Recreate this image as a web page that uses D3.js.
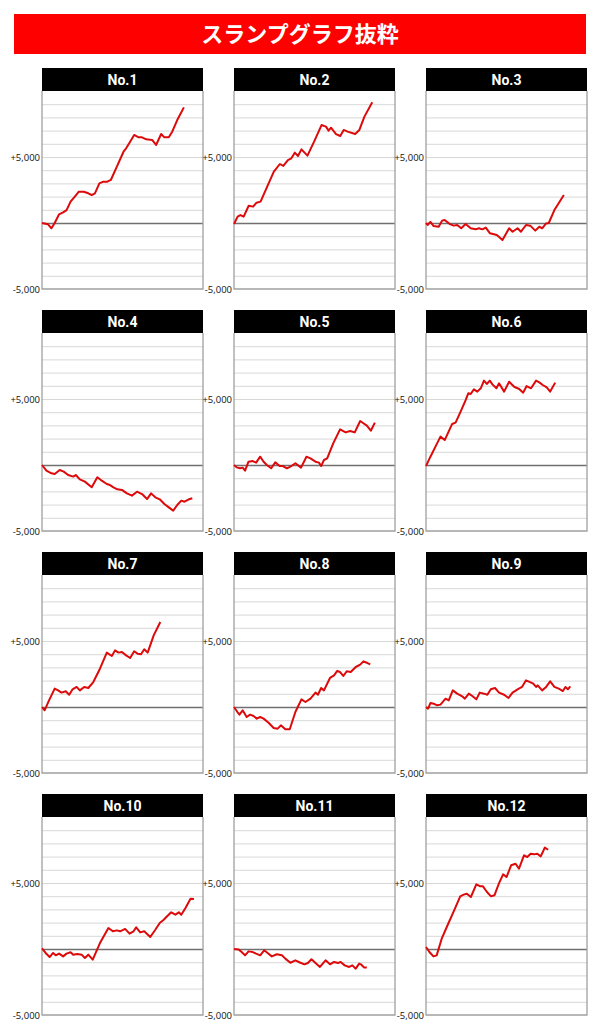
<!DOCTYPE html>
<html>
<head>
<meta charset="utf-8">
<script src="https://cdn.jsdelivr.net/npm/d3@7"></script>
<style>
  body { margin: 0; background: #fff; }
  svg { display: block; }
</style>
</head>
<body>
<script>
// slump graphs, [games, difference]
var slump1 = [[0,0],[300,-100],[470,-400],[630,0],[850,660],[1050,810],[1220,980],[1420,1620],[1630,2000],[1830,2370],[2080,2370],[2300,2250],[2470,2120],[2630,2250],[2850,3000],[3050,3130],[3250,3130],[3420,3260],[3720,4270],[4050,5400],[4180,5660],[4380,6160],[4580,6670],[4800,6490],[4970,6490],[5180,6340],[5470,6290],[5670,5910],[5920,6740],[6080,6490],[6300,6490],[6470,6920],[6720,7800],[7050,8760]];
var slump2 = [[0,-80],[180,480],[320,600],[480,480],[730,1310],[950,1240],[1120,1540],[1320,1620],[1650,2750],[1980,3890],[2280,4470],[2450,4320],[2680,4770],[2850,4900],[3020,5330],[3180,5080],[3350,5580],[3650,5100],[3980,6160],[4350,7420],[4570,7300],[4700,7000],[4820,7220],[5070,6740],[5280,6590],[5450,7050],[5650,6920],[6020,6740],[6230,7050],[6480,8060],[6870,9140]];
var slump3 = [[0,0],[80,-150],[220,80],[380,-230],[630,-280],[800,180],[930,230],[1180,-80],[1380,-200],[1550,-150],[1750,-400],[1970,-80],[2220,-400],[2470,-480],[2630,-400],[2800,-480],[2970,-350],[3180,-780],[3520,-910],[3800,-1290],[4130,-400],[4300,-660],[4550,-400],[4720,-660],[4970,-150],[5180,-200],[5430,-580],[5630,-280],[5770,-400],[5970,-30],[6100,0],[6380,980],[6850,2120]];
var slump4 = [[0,0],[220,-430],[470,-630],[630,-680],[880,-380],[1080,-500],[1300,-760],[1550,-880],[1680,-760],[1880,-1090],[2130,-1260],[2470,-1690],[2750,-930],[2970,-1190],[3220,-1440],[3380,-1520],[3550,-1690],[3750,-1840],[3970,-1890],[4220,-2150],[4470,-2320],[4720,-2020],[4970,-2200],[5220,-2580],[5420,-2150],[5630,-2450],[5850,-2600],[6080,-2950],[6300,-3210],[6520,-3460],[6720,-3030],[6920,-2700],[7080,-2780],[7300,-2600],[7470,-2520]];
var slump5 = [[0,0],[130,-180],[300,-250],[430,-200],[550,-430],[720,250],[930,300],[1100,180],[1300,630],[1470,250],[1630,0],[1850,-250],[2050,200],[2270,-80],[2430,-80],[2630,-250],[2800,-130],[3050,130],[3330,-200],[3600,630],[3800,500],[4050,250],[4220,180],[4330,-80],[4470,380],[4630,500],[4930,1640],[5270,2700],[5550,2470],[5770,2580],[6000,2470],[6270,3330],[6430,3160],[6600,2980],[6800,2600],[7000,3210]];
var slump6 = [[0,-80],[220,630],[470,1390],[720,2150],[930,1890],[1300,3110],[1470,3210],[1720,4040],[1970,4920],[2100,5430],[2220,5380],[2380,5730],[2550,5560],[2720,5810],[2880,6390],[3020,6140],[3170,6390],[3300,6110],[3500,5810],[3630,6190],[3880,5560],[4130,6310],[4380,5930],[4630,5760],[4830,5480],[5000,5980],[5220,5810],[5470,6390],[5630,6260],[5800,6060],[6000,5880],[6170,5560],[6420,6240]];
var slump7 = [[0,0],[130,-250],[350,500],[630,1390],[800,1260],[970,1090],[1180,1190],[1350,930],[1520,1340],[1720,1520],[1880,1260],[2100,1520],[2300,1440],[2550,1890],[2880,2900],[3220,4120],[3470,3860],[3630,4290],[3800,4120],[3970,4170],[4180,3910],[4380,3710],[4580,4220],[4750,4040],[4920,3990],[5080,4370],[5250,4120],[5550,5430],[5880,6440]];
var slump8 = [[0,0],[170,-380],[270,-580],[430,-250],[630,-760],[800,-580],[970,-680],[1130,-880],[1300,-760],[1470,-880],[1720,-1190],[1970,-1590],[2170,-1640],[2330,-1390],[2550,-1690],[2770,-1690],[3050,-380],[3350,580],[3550,380],[3800,630],[4050,1090],[4170,930],[4330,1440],[4470,1260],[4770,2200],[4970,2400],[5130,2730],[5270,2650],[5430,2350],[5600,2700],[5800,2650],[6050,3030],[6270,3210],[6430,3460],[6630,3330],[6770,3230]];
var slump9 = [[0,0],[100,-130],[220,300],[380,250],[550,130],[720,180],[970,630],[1130,500],[1330,1260],[1550,1010],[1800,810],[1930,630],[2130,1010],[2300,830],[2500,580],[2670,1090],[2880,1010],[3050,930],[3220,1340],[3430,1440],[3630,1090],[3880,930],[4100,680],[4300,1090],[4550,1340],[4770,1520],[4970,2020],[5170,1890],[5330,1770],[5470,1520],[5550,1640],[5770,1260],[5970,1520],[6170,1940],[6380,1520],[6600,1390],[6800,1210],[6930,1520],[7050,1340],[7170,1570]];
var slump10 = [[0,50],[180,-300],[380,-610],[550,-300],[680,-480],[850,-350],[1050,-560],[1220,-350],[1420,-250],[1550,-430],[1750,-380],[1970,-430],[2130,-680],[2300,-430],[2520,-810],[2880,450],[3300,1590],[3520,1340],[3720,1410],[3880,1340],[4130,1520],[4350,1160],[4550,1340],[4680,1640],[4880,1260],[5080,1340],[5380,910],[5630,1460],[5850,1970],[6050,2220],[6180,2420],[6420,2780],[6630,2600],[6800,2780],[6920,2600],[7130,3110],[7380,3810],[7550,3790]];
var slump11 = [[0,0],[220,-30],[380,-230],[550,-480],[720,-180],[930,-230],[1100,-350],[1300,-480],[1500,-100],[1670,-300],[1880,-560],[2130,-400],[2380,-480],[2550,-730],[2800,-1040],[3050,-860],[3300,-1040],[3500,-1160],[3670,-1060],[3850,-780],[4050,-1060],[4270,-1360],[4550,-860],[4770,-1160],[4970,-980],[5170,-1060],[5300,-980],[5500,-1240],[5720,-1360],[5880,-1240],[6050,-1490],[6220,-1110],[6330,-1190],[6470,-1410],[6600,-1410]];
var slump12 = [[0,150],[170,-230],[370,-560],[530,-480],[780,780],[1120,1970],[1400,2930],[1700,3990],[1870,4120],[2030,4190],[2230,3940],[2500,4900],[2700,4750],[2830,4750],[3030,4320],[3230,3990],[3400,4070],[3620,4950],[3830,5660],[4000,5450],[4230,6340],[4450,6460],[4620,6090],[4870,7100],[5030,6970],[5200,7220],[5370,7170],[5530,7220],[5700,7020],[5780,7270],[5900,7680],[6070,7520]];

var panelNames = ["No.1", "No.2", "No.3", "No.4", "No.5", "No.6",
                  "No.7", "No.8", "No.9", "No.10", "No.11", "No.12"];
var panelData = [slump1, slump2, slump3, slump4, slump5, slump6,
                 slump7, slump8, slump9, slump10, slump11, slump12];
var yTickValues = [5000, -5000];
var yTickLabels = ["+5,000", "-5,000"];
var titleText = "スランプグラフ抜粋";

// layout
var canvasX = 600;
var canvasY = 1036;
var panelW = 161;
var plotH = 198;
var headerH = 23;
var colX = [42, 234, 426];
var rowY = [68, 310, 552, 794];

var svg = d3.select("body")
            .append("svg")
            .attr("width", canvasX)
            .attr("height", canvasY);

// title banner
svg.append("rect")
    .attr("x", 14)
    .attr("y", 14)
    .attr("width", 572)
    .attr("height", 40)
    .attr("fill", "#ff0000");
svg.append("text")
    .attr("x", 300)
    .attr("y", 34)
    .attr("dy", "0.36em")
    .attr("text-anchor", "middle")
    .attr("fill", "#fff")
    .style("font-family", "'Noto Sans CJK JP', sans-serif")
    .style("font-weight", 700)
    .style("font-size", "22px")
    .text(titleText);

// shared scales
var scaleX = d3.scaleLinear()
               .domain([0, 8000])
               .range([0, panelW]);
var scaleY = d3.scaleLinear()
             .domain([-5000, 10000])
             .range([plotH, 0]);

var line = d3.line()
             .x(function(d) { return scaleX(d[0]); })
             .y(function(d) { return scaleY(d[1]); });

panelData.forEach(function(series, i) {
    var px = colX[i % 3];
    var py = rowY[Math.floor(i / 3)];

    var g = svg.append("g")
        .attr("transform", "translate(" + px + "," + (py + headerH) + ")");

    // gridlines every 1000
    g.append("g")
        .attr("class", "grid")
        .call(d3.axisRight(scaleY)
                .tickValues(d3.range(-4000, 10000, 1000))
                .tickSize(panelW)
                .tickFormat(""))
        .call(function(s) {
            s.select(".domain").remove();
            s.selectAll("line")
             .attr("stroke", function(d) { return d === 0 ? "#707070" : "#d8d8d8"; })
             .attr("stroke-width", function(d) { return d === 0 ? 1.3 : 1; });
        });

    // frame: left, right and bottom
    g.append("path")
        .attr("d", "M0,0V" + plotH + "H" + panelW + "V0")
        .attr("fill", "none")
        .attr("stroke", "#a0a0a0")
        .attr("stroke-width", 1.3);

    // y labels
    g.append("g")
        .call(d3.axisLeft(scaleY)
                .tickValues(yTickValues)
                .tickSize(0)
                .tickPadding(2)
                .tickFormat(function(d, k) { return yTickLabels[k]; }))
        .call(function(s) {
            s.select(".domain").remove();
            s.selectAll("text")
             .attr("fill", "#111")
             .style("font-family", "'Open Sans', sans-serif")
             .style("font-size", "9.5px");
        });

    // slump line
    g.append("path")
        .datum(series)
        .attr("d", line)
        .attr("fill", "none")
        .attr("stroke", "#dc0a0a")
        .attr("stroke-width", 2)
        .attr("stroke-linejoin", "round");

    // header
    svg.append("rect")
        .attr("x", px)
        .attr("y", py)
        .attr("width", panelW)
        .attr("height", headerH)
        .attr("fill", "#000");
    svg.append("text")
        .attr("x", px + panelW / 2)
        .attr("y", py + headerH / 2)
        .attr("dy", "0.36em")
        .attr("text-anchor", "middle")
        .attr("fill", "#fff")
        .style("font-family", "Roboto, sans-serif")
        .style("font-weight", 700)
        .style("font-size", "14px")
        .text(panelNames[i]);
});
</script>
</body>
</html>
